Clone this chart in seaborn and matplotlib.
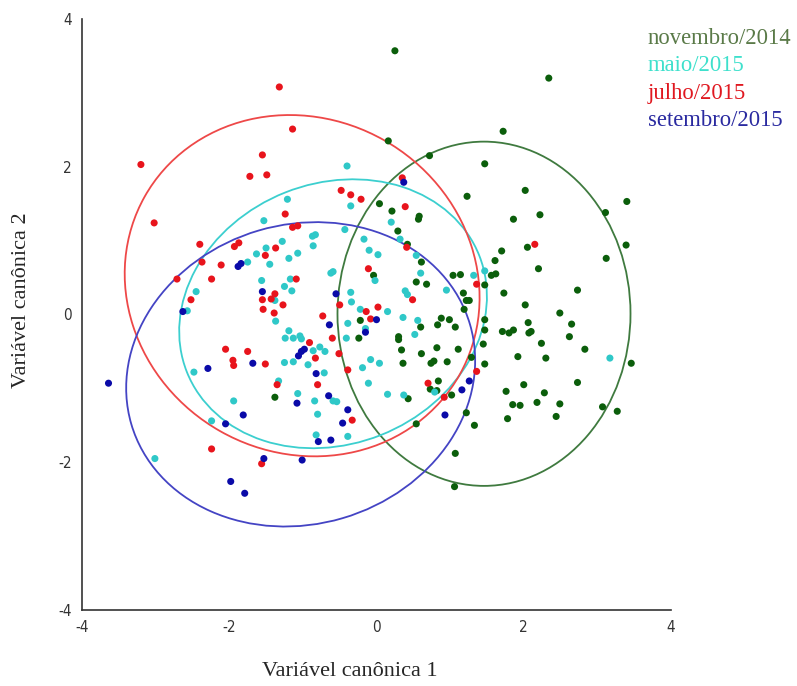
import matplotlib
matplotlib.use("Agg")
import matplotlib.pyplot as plt
from matplotlib.patches import Ellipse
import seaborn as sns
import numpy as np
import pandas as pd

groups = ["novembro/2014", "maio/2015", "julho/2015", "setembro/2015"]
point_colors = ["#0b5e0b", "#2fc8c8", "#e8141c", "#0a0aa8"]
line_colors = ["#3f7a3f", "#3ccfcf", "#ee4848", "#4444c4"]
label_colors = ["#5a7a48", "#3ee0cc", "#e01820", "#2a2aa0"]

nov_x = [0.25, 2.34, 1.72, 0.16, 0.72, 1.47, 2.02, 1.23, 3.40, 0.04, 0.21, 3.11, 2.22, 0.58, 1.86,
         0.57, 0.29, 0.42, 2.05, 3.39, 1.70, 3.12, 1.61, 0.61, 2.20, -0.04, 1.04, 1.14, 1.56, 1.62,
         0.54, 0.68, 1.47, 2.73, 1.18, 1.73, 1.26, 1.22, 2.02, 1.19, 2.49, 0.88, 0.99, 1.47, -0.22,
         2.06, 2.65, 0.83, 1.07, 0.60, 1.47, 1.71, 1.80, 1.86, 2.07, 2.10, 0.30, 0.30, -0.24, 2.62,
         2.24, 1.45, 0.82, 1.11, 0.34, 2.83, 0.61, 1.92, 1.29, 2.30, 0.74, 0.78, 0.96, 0.36, 3.46,
         1.47, 0.84, 2.73, 2.00, 0.73, 0.82, 1.76, 2.28, 1.02, -1.38, 0.43, 2.18, 1.85, 1.95, 2.49,
         3.07, 3.27, 1.22, 2.44, 1.78, 0.54, 1.33, 1.07, 1.06]
nov_y = [3.57, 3.20, 2.48, 2.35, 2.15, 2.04, 1.68, 1.60, 1.53, 1.50, 1.40, 1.38, 1.35, 1.33, 1.29,
         1.29, 1.13, 0.95, 0.91, 0.94, 0.86, 0.76, 0.73, 0.71, 0.62, 0.53, 0.53, 0.54, 0.53, 0.55,
         0.44, 0.41, 0.40, 0.33, 0.29, 0.29, 0.19, 0.19, 0.13, 0.07, 0.02, -0.05, -0.07, -0.07, -0.08,
         -0.11, -0.13, -0.14, -0.17, -0.17, -0.21, -0.23, -0.25, -0.21, -0.25, -0.23, -0.30, -0.34, -0.32, -0.30,
         -0.39, -0.40, -0.45, -0.47, -0.48, -0.47, -0.53, -0.57, -0.58, -0.59, -0.66, -0.63, -0.64, -0.66, -0.66,
         -0.67, -0.90, -0.92, -0.95, -1.01, -1.03, -1.04, -1.06, -1.09, -1.12, -1.14, -1.19, -1.22, -1.23, -1.21,
         -1.25, -1.31, -1.33, -1.38, -1.41, -1.48, -1.50, -1.88, -2.33]

mai_x = [-0.40, -1.21, -0.35, -1.53, 0.20, -0.43, -0.87, -0.83, -1.28, -0.86, -0.17, 0.32, -1.50, -0.10,
         0.02, -1.07, -1.63, 0.54, -1.19, -1.75, -1.45, -0.59, -0.62, 0.60, 1.32, 1.47, -0.02, -1.56,
         -1.17, -1.25, -1.15, -2.45, -0.35, 0.39, 0.42, 0.95, -1.38, -0.34, -0.22, 0.15, -2.57, -1.37,
         0.36, 0.56, -0.39, -0.15, -1.19, 0.52, -1.24, -1.13, -1.04, -1.02, -0.41, -0.86, -0.77, -0.70,
         3.17, -1.25, -1.13, -0.93, -0.08, 0.04, -0.19, -0.71, -2.48, -1.33, -0.11, 0.79, -1.07, -0.59,
         -0.54, -0.84, 0.15, 0.37, -1.94, -0.80, -2.24, -0.82, -0.39, -3.01]
mai_y = [2.01, 1.56, 1.47, 1.27, 1.25, 1.15, 1.06, 1.08, 0.99, 0.93, 1.02, 1.02, 0.90, 0.87,
         0.81, 0.83, 0.82, 0.80, 0.76, 0.71, 0.68, 0.58, 0.56, 0.56, 0.53, 0.59, 0.46, 0.46,
         0.48, 0.38, 0.32, 0.31, 0.30, 0.32, 0.27, 0.33, 0.19, 0.17, 0.07, 0.04, 0.05, -0.09,
         -0.04, -0.08, -0.12, -0.19, -0.22, -0.27, -0.32, -0.32, -0.29, -0.33, -0.32, -0.49, -0.44, -0.50,
         -0.59, -0.65, -0.64, -0.68, -0.61, -0.66, -0.72, -0.79, -0.78, -0.90, -0.93, -1.05, -1.07, -1.17,
         -1.18, -1.17, -1.08, -1.09, -1.17, -1.35, -1.44, -1.63, -1.65, -1.95]

jul_x = [-1.32, -1.14, -3.20, -1.55, -1.72, -1.49, 0.35, -0.48, -0.35, -0.21, 0.39, -1.24, -3.02, -1.14,
         -1.07, -2.40, -1.93, -1.87, 2.15, -1.37, 0.41, -1.51, -2.37, -2.11, -0.11, -2.71, -2.24, -1.09,
         1.36, -1.38, -1.43, -1.55, -2.52, 0.49, -1.27, -0.50, 0.02, -1.54, -0.14, -1.39, -0.73, -0.08,
         -0.60, -0.91, -2.05, -1.75, -0.51, -0.83, -1.95, -1.94, -1.51, -0.39, 1.36, -0.80, -1.35, 0.70,
         0.92, -0.33, -2.24, -1.56]
jul_y = [3.08, 2.51, 2.03, 2.16, 1.87, 1.89, 1.85, 1.68, 1.62, 1.56, 1.46, 1.36, 1.24, 1.18,
         1.20, 0.95, 0.92, 0.97, 0.95, 0.90, 0.91, 0.80, 0.71, 0.67, 0.62, 0.48, 0.48, 0.48,
         0.41, 0.28, 0.21, 0.20, 0.20, 0.20, 0.13, 0.13, 0.10, 0.07, 0.04, 0.02, -0.02, -0.06,
         -0.32, -0.38, -0.47, -0.50, -0.53, -0.59, -0.62, -0.69, -0.67, -0.75, -0.77, -0.95, -0.95, -0.93,
         -1.12, -1.43, -1.82, -2.02]

set_x = [0.37, -1.88, -1.84, -1.55, -2.63, -0.55, 0.00, -0.64, -0.15, -0.98, -1.02, -1.06, -1.68, -2.29,
         -0.82, 1.26, -3.64, 1.16, -0.65, -1.08, -0.39, 0.93, -1.81, -0.46, -2.05, -0.79, -0.62, -1.01,
         -1.53, -1.98, -1.79]
set_y = [1.79, 0.65, 0.69, 0.31, 0.04, 0.28, -0.07, -0.14, -0.24, -0.47, -0.50, -0.56, -0.66, -0.73,
         -0.80, -0.90, -0.93, -1.02, -1.10, -1.20, -1.29, -1.36, -1.36, -1.47, -1.48, -1.72, -1.70, -1.97,
         -1.95, -2.26, -2.42]

# ellipse: centre, half extent in x and y, correlation
ell_cx = [1.46, -0.59, -1.01, -1.03]
ell_cy = [0.01, 0.01, 0.39, -0.81]
ell_hx = [1.99, 2.09, 2.41, 2.37]
ell_hy = [2.33, 1.82, 2.31, 2.06]
ell_r = [0.0, 0.13, -0.07, 0.09]

df = pd.concat([
    pd.DataFrame({"x": nov_x, "y": nov_y, "grupo": groups[0]}),
    pd.DataFrame({"x": mai_x, "y": mai_y, "grupo": groups[1]}),
    pd.DataFrame({"x": jul_x, "y": jul_y, "grupo": groups[2]}),
    pd.DataFrame({"x": set_x, "y": set_y, "grupo": groups[3]}),
])

sns.set_style("white")
plt.rcParams["font.family"] = ["Liberation Serif", "DejaVu Serif"]
plt.rcParams["axes.unicode_minus"] = False

fig = plt.figure(figsize=(7.97, 6.86), dpi=100)
ax = fig.add_axes([82/797, 76/686, 589/797, 591/686])

for i in range(4):
    cov = np.array([[ell_hx[i]**2, ell_r[i]*ell_hx[i]*ell_hy[i]],
                    [ell_r[i]*ell_hx[i]*ell_hy[i], ell_hy[i]**2]])
    vals, vecs = np.linalg.eigh(cov)
    ang = np.degrees(np.arctan2(vecs[1, 1], vecs[0, 1]))
    ax.add_patch(Ellipse((ell_cx[i], ell_cy[i]), 2*np.sqrt(vals[1]), 2*np.sqrt(vals[0]),
                         angle=ang, fill=False, color=line_colors[i], lw=1.3))

sns.scatterplot(data=df, x="x", y="y", hue="grupo", palette=point_colors, hue_order=groups,
                s=26, edgecolor="none", legend=False, ax=ax)

ax.set_xlim(-4, 4)
ax.set_ylim(-4, 4)
ax.set_xticks([-4, -2, 0, 2, 4])
ax.set_yticks([-4, -2, 0, 2, 4])
ax.set_xlabel("")
ax.set_ylabel("")
sns.despine(ax=ax)
for s in ["left", "bottom"]:
    ax.spines[s].set_color("#333333")
    ax.spines[s].set_linewidth(1.2)
ax.tick_params(direction="out", length=4, width=1, colors="#333333", labelsize=11)
for lab in ax.get_xticklabels() + ax.get_yticklabels():
    lab.set_family("DejaVu Sans")
    lab.set_fontstretch("condensed")

fig.text(350/797, 1 - 672/686, "Variável canônica 1", ha="center", va="center", fontsize=16)
fig.text(22/797, 1 - 300/686, "Variável canônica 2", ha="center", va="center", fontsize=16, rotation=90)

for i, g in enumerate(groups):
    fig.text(648/797, 1 - (38 + 27.5*i)/686, g, color=label_colors[i], ha="left", va="center", fontsize=16.3)

fig.savefig("out.png", dpi=100)
